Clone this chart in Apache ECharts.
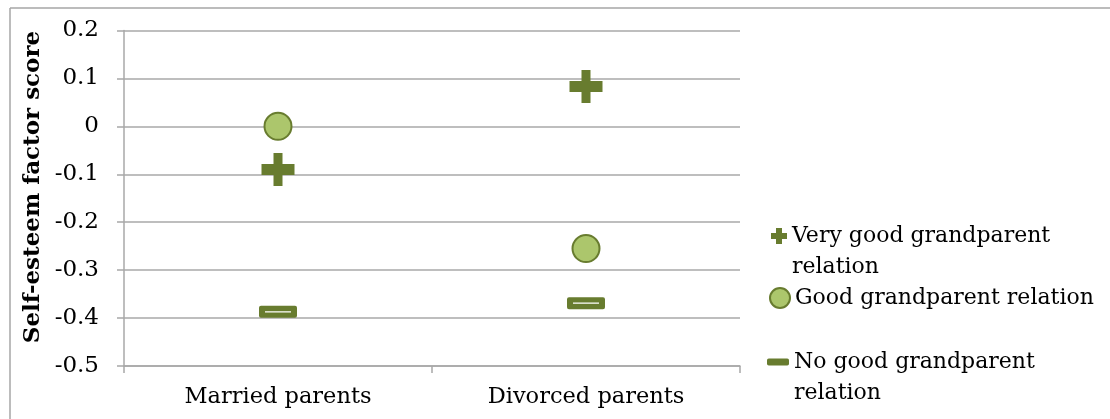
<!DOCTYPE html>
<html>
<head>
<meta charset="utf-8">
<script src="https://cdn.jsdelivr.net/npm/echarts@6/dist/echarts.min.js"></script>
<style>
  html, body { margin: 0; padding: 0; background: #fff; overflow: hidden; }
  #chart { width: 1110px; height: 419px; }
</style>
</head>
<body>
<div id="chart"></div>
<script>
// Self-esteem factor score by parents' marital status and grandparent relation
const categories = ['Married parents', 'Divorced parents'];
const seriesNames = [
  'Very good grandparent relation',
  'Good grandparent relation',
  'No good grandparent relation'
];
const veryGoodValues = [-0.090, 0.083];
const goodValues = [0.000, -0.255];
const noGoodValues = [-0.387, -0.369];
const yAxisTicks = [-0.5, -0.4, -0.3, -0.2, -0.1, 0, 0.1, 0.2];
const yAxisTitle = 'Self-esteem factor score';

const SERIF = '"DejaVu Serif", "Liberation Serif", serif';
const DARK_OLIVE = '#687c2f';
const LIGHT_OLIVE = '#acc66c';
const GRID_GREY = '#a8a8a8';

// marker shapes
const PLUS_PATH = 'path://M12,0 H21 V11 H33 V22 H21 V33 H12 V22 H0 V11 H12 Z';
// rounded bar with a thin light slot through the middle (inner contour wound the other way)
const DASH_PATH = 'path://M2,0 H36 Q38,0 38,2 V10 Q38,12 36,12 H2 Q0,12 0,10 V2 Q0,0 2,0 Z M6,5.4 V6.6 H32 V5.4 Z';
// legend version of the plus, with chunkier arms
const PLUS_ICON = 'path://M5,0 H11 V5 H16 V11 H11 V16 H5 V11 H0 V5 H5 Z';

const chart = echarts.init(document.getElementById('chart'), null, { renderer: 'canvas' });

const legendText = {
  fontFamily: SERIF,
  fontSize: 22,
  lineHeight: 31,
  color: '#000'
};

function wrapLegend(name) {
  if (name === seriesNames[0]) return '\nVery good grandparent\nrelation';
  if (name === seriesNames[2]) return '\nNo good grandparent\nrelation';
  return name;
}

chart.setOption({
  animation: false,
  backgroundColor: '#fff',
  grid: { left: 124, top: 30.5, right: 370, bottom: 53, containLabel: false },
  xAxis: {
    type: 'category',
    data: categories,
    boundaryGap: true,
    axisLine: { show: true, onZero: false, lineStyle: { color: GRID_GREY, width: 1.5 } },
    axisTick: { show: true, length: 7, lineStyle: { color: GRID_GREY, width: 1.5 } },
    axisLabel: { margin: 20, fontFamily: SERIF, fontSize: 22.5, color: '#000' },
    splitLine: { show: false }
  },
  yAxis: {
    type: 'value',
    min: yAxisTicks[0],
    max: yAxisTicks[yAxisTicks.length - 1],
    interval: 0.1,
    axisLine: { show: true, lineStyle: { color: GRID_GREY, width: 1.5 } },
    axisTick: { show: true, length: 7, lineStyle: { color: GRID_GREY, width: 1.5 } },
    axisLabel: {
      margin: 25,
      fontFamily: SERIF,
      fontSize: 23,
      color: '#000',
      formatter: v => String(Math.round(v * 10) / 10)
    },
    splitLine: { show: true, lineStyle: { color: GRID_GREY, width: 1.5 } }
  },
  legend: [
    {
      data: [{ name: seriesNames[0], icon: PLUS_ICON }],
      left: 771, top: 189.5, padding: 0, orient: 'vertical',
      itemWidth: 16, itemHeight: 16,
      formatter: wrapLegend, textStyle: legendText
    },
    {
      data: [{ name: seriesNames[1] }],
      left: 769, top: 282.5, padding: 0, orient: 'vertical',
      itemWidth: 20, itemHeight: 20,
      formatter: wrapLegend, textStyle: legendText
    },
    {
      data: [{ name: seriesNames[2], icon: 'roundRect' }],
      left: 767, top: 315.5, padding: 0, orient: 'vertical',
      itemWidth: 22, itemHeight: 7,
      formatter: wrapLegend, textStyle: legendText
    }
  ],
  graphic: [
    {
      // outer frame, top edge
      type: 'line',
      silent: true,
      shape: { x1: 10, y1: 8, x2: 1110, y2: 8 },
      style: { stroke: '#a6a6a6', lineWidth: 1.5 }
    },
    {
      // outer frame, left edge
      type: 'line',
      silent: true,
      shape: { x1: 10, y1: 8, x2: 10, y2: 419 },
      style: { stroke: '#a6a6a6', lineWidth: 1.5 }
    },
    {
      type: 'text',
      silent: true,
      x: 33, y: 187,
      rotation: Math.PI / 2,
      style: {
        text: yAxisTitle,
        font: 'bold 23px ' + SERIF,
        fill: '#000',
        align: 'center',
        verticalAlign: 'middle'
      }
    }
  ],
  series: [
    {
      name: seriesNames[0],
      type: 'scatter',
      data: veryGoodValues,
      symbol: PLUS_PATH,
      symbolSize: 33,
      itemStyle: { color: DARK_OLIVE, opacity: 1 },
      z: 3
    },
    {
      name: seriesNames[1],
      type: 'scatter',
      data: goodValues,
      symbol: 'circle',
      symbolSize: 27,
      itemStyle: { color: LIGHT_OLIVE, borderColor: DARK_OLIVE, borderWidth: 2, opacity: 1 },
      z: 3
    },
    {
      name: seriesNames[2],
      type: 'scatter',
      data: noGoodValues,
      symbol: DASH_PATH,
      symbolSize: [38, 12],
      itemStyle: { color: DARK_OLIVE, opacity: 1 },
      z: 3
    }
  ]
});
</script>
</body>
</html>
